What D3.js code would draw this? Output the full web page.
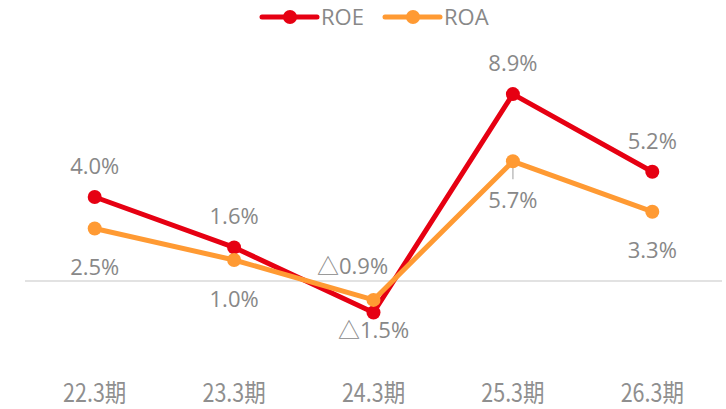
<!DOCTYPE html>
<html>
<head>
<meta charset="utf-8">
<script src="https://cdn.jsdelivr.net/npm/d3@7"></script>
<style>
  body { margin: 0; background: #fff; }
  text { font-family: "Open Sans", "Noto Sans CJK JP", sans-serif; }
</style>
</head>
<body>
<script>
var categories = ["22.3期", "23.3期", "24.3期", "25.3期", "26.3期"];
var roe = [4.0, 1.6, -1.5, 8.9, 5.2];
var roa = [2.5, 1.0, -0.9, 5.7, 3.3];

var width = 726,
    height = 409;

var svg = d3.select("body").append("svg")
    .attr("width", width)
    .attr("height", height);

var x = d3.scaleBand()
    .domain(categories)
    .range([25, 722]);

var y = d3.scaleLinear()
    .domain([-4, 10])
    .range([365, 71]);

var cx = function(d, i) { return x(categories[i]) + x.bandwidth() / 2; };

var fmt = function(v) {
    return (v < 0 ? "△" + Math.abs(v).toFixed(1) : v.toFixed(1)) + "%";
};

// zero line
svg.append("line")
    .attr("x1", 25).attr("x2", 722)
    .attr("y1", y(0)).attr("y2", y(0))
    .attr("stroke", "#d9d9d9")
    .attr("stroke-width", 1.5);

// x axis labels
var xAxis = svg.append("g")
    .attr("transform", "translate(0,402)")
    .call(d3.axisBottom(x).tickSize(0).tickPadding(0));
xAxis.select(".domain").remove();
xAxis.selectAll("text")
    .attr("dy", "0")
    .attr("y", 0)
    .attr("font-size", 25)
    .attr("fill", "#8f8f8f")
    .style("font-family", "'Noto Sans CJK JP', sans-serif")
    .attr("transform", "scale(0.86,1)");

// ROE labels sit above the point (below when negative), ROA the other way
var series = [
    { name: "ROE", values: roe, color: "#e60012", up: function(d) { return d >= 0; }, above: 31, below: 18, dx: {} },
    { name: "ROA", values: roa, color: "#ff9a33", up: function(d) { return d < 0; }, above: 34, below: 39, dx: { 2: -21 } }
];

var line = d3.line()
    .x(cx)
    .y(function(d) { return y(d); });

// ROA leader line at 25.3期
svg.append("line")
    .attr("x1", cx(null, 3))
    .attr("x2", cx(null, 3))
    .attr("y1", y(roa[3]))
    .attr("y2", y(roa[3]) + 18)
    .attr("stroke", "#bfbfbf")
    .attr("stroke-width", 1.5);

series.forEach(function(s) {
    var g = svg.append("g");
    g.append("path")
        .datum(s.values)
        .attr("d", line)
        .attr("fill", "none")
        .attr("stroke", s.color)
        .attr("stroke-width", 5)
        .attr("stroke-linejoin", "round");
    g.selectAll("circle")
        .data(s.values)
        .enter().append("circle")
        .attr("cx", cx)
        .attr("cy", function(d) { return y(d); })
        .attr("r", 7)
        .attr("fill", s.color);
});

// data labels drawn on top
series.forEach(function(s) {
    svg.append("g").selectAll("text")
        .data(s.values)
        .enter().append("text")
        .attr("x", function(d, i) { return cx(d, i) + (s.dx[i] || 0); })
        .attr("y", function(d) {
            return s.up(d) ? y(d) - s.above : y(d) + s.below;
        })
        .attr("dy", "0.35em")
        .attr("text-anchor", "middle")
        .attr("font-size", 22)
        .attr("fill", "#888888")
        .text(fmt);
});

// legend
var legend = svg.append("g");
var legendX = [262, 385];
series.forEach(function(s, i) {
    var lg = legend.append("g").attr("transform", "translate(" + legendX[i] + ",17)");
    lg.append("line")
        .attr("x1", 0).attr("x2", 55)
        .attr("stroke", s.color)
        .attr("stroke-width", 5)
        .attr("stroke-linecap", "round");
    lg.append("circle")
        .attr("cx", 28).attr("r", 7)
        .attr("fill", s.color);
    lg.append("text")
        .attr("x", 59)
        .attr("dy", "0.35em")
        .attr("font-size", 22)
        .attr("fill", "#888888")
        .text(s.name);
});
</script>
</body>
</html>
